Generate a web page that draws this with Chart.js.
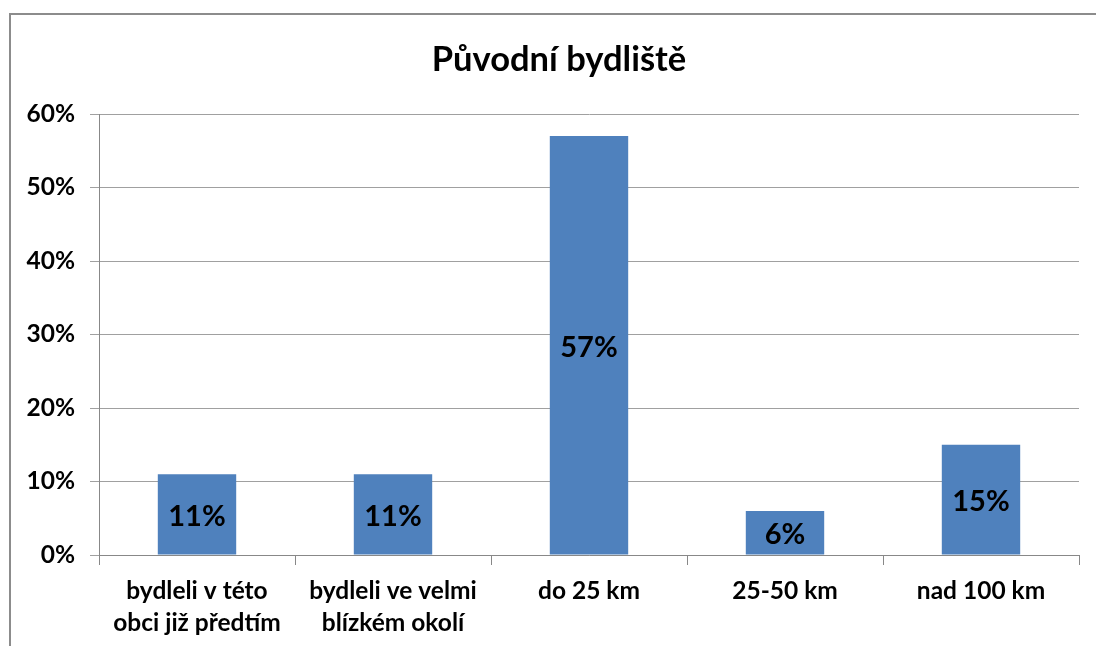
<!DOCTYPE html>
<html>
<head>
<meta charset="utf-8">
<script src="https://cdn.jsdelivr.net/npm/chart.js@4/dist/chart.umd.min.js"></script>
<style>
  html, body { margin: 0; padding: 0; background: #fff; overflow: hidden; }
  #frame { position: absolute; left: 9px; top: 13px; width: 1200px; height: 800px;
           border-left: 2px solid #8c8c8c; border-top: 2px solid #8c8c8c; }
  #c { position: absolute; left: 0; top: 0; }
</style>
</head>
<body>
<div id="frame"></div>
<canvas id="c" width="1096" height="646"></canvas>
<script>
const title = 'Původní bydliště';
const categories = [
  ['bydleli v této', 'obci již předtím'],
  ['bydleli ve velmi', 'blízkém okolí'],
  'do 25 km',
  '25-50 km',
  'nad 100 km'
];
const values = [11, 11, 57, 6, 15];
const yTicks = [0, 10, 20, 30, 40, 50, 60];

const FONT = 'Lato, "Open Sans", sans-serif';

const barLabels = {
  id: 'barLabels',
  afterDatasetsDraw(chart) {
    const ctx = chart.ctx;
    const meta = chart.getDatasetMeta(0);
    ctx.save();
    ctx.font = 'bold 29px ' + FONT;
    ctx.fillStyle = '#000';
    ctx.textAlign = 'center';
    ctx.textBaseline = 'middle';
    meta.data.forEach((bar, i) => {
      const v = chart.data.datasets[0].data[i];
      ctx.fillText(v + '%', bar.x, (bar.y + bar.base) / 2 + 2);
    });
    ctx.restore();
  }
};

const chartTitle = {
  id: 'chartTitle',
  afterDraw(chart) {
    const ctx = chart.ctx;
    ctx.save();
    ctx.font = 'bold 34.5px ' + FONT;
    ctx.fillStyle = '#000';
    ctx.textAlign = 'center';
    ctx.textBaseline = 'middle';
    ctx.fillText(title, 559, 60);
    ctx.restore();
  }
};

new Chart(document.getElementById('c'), {
  type: 'bar',
  data: {
    labels: categories,
    datasets: [{
      data: values,
      backgroundColor: '#4F81BD',
      borderWidth: 0,
      categoryPercentage: 1.0,
      barPercentage: 0.4
    }]
  },
  options: {
    responsive: false,
    animation: false,
    devicePixelRatio: 1,
    layout: { padding: { left: 0, right: 17, top: 114, bottom: 0 } },
    plugins: {
      legend: { display: false },
      tooltip: { enabled: false },
      title: { display: false }
    },
    scales: {
      x: {
        grid: { display: true, drawOnChartArea: false, drawTicks: true, tickLength: 10, color: '#888', offset: true },
        border: { display: true, color: '#888', width: 1 },
        ticks: {
          color: '#000',
          padding: 11,
          maxRotation: 0,
          autoSkip: false,
          font: { family: FONT, size: 24.5, weight: 'bold', lineHeight: 1.27 }
        },
        afterFit(scale) { scale.height = 91; }
      },
      y: {
        min: 0,
        max: 60,
        afterBuildTicks(scale) { scale.ticks = yTicks.map(v => ({ value: v })); },
        grid: { color: '#a0a0a0', tickLength: 9, drawTicks: true },
        border: { display: true, color: '#888', width: 1 },
        ticks: {
          color: '#000',
          padding: 15,
          callback: v => v + '%',
          font: { family: FONT, size: 24.5, weight: 'bold' }
        },
        afterFit(scale) { scale.width = 99; }
      }
    }
  },
  plugins: [barLabels, chartTitle]
});
</script>
</body>
</html>
